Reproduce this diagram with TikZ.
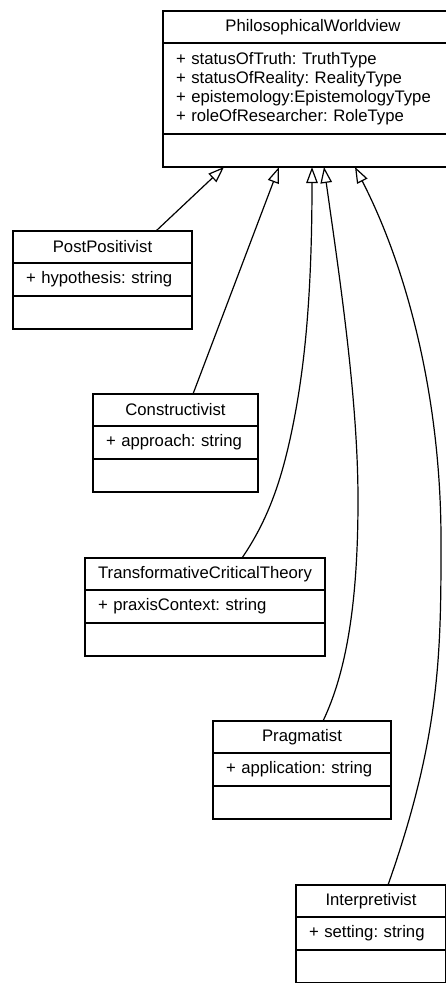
\documentclass[tikz,border=0pt]{standalone}
\usepackage{fontspec}
\setmainfont{Liberation Sans}
\usetikzlibrary{arrows.meta,positioning}
\frenchspacing
\begin{document}
\begin{tikzpicture}
% UML class diagram laid out on the pixel grid of the source image
\def\px{1pt}
\providecommand{\umlLineWidth}{1.2pt}
\providecommand{\umlFont}{\fontsize{16.7}{19}\selectfont}
\begin{scope}[x=\px, y=-\px, line join=miter,
  classname/.style={draw, line width=\umlLineWidth, outer sep=0pt, inner sep=0pt, minimum width=#1, minimum height=32pt, font=\umlFont},
  classattr/.style={draw, line width=\umlLineWidth, outer sep=0pt, inner xsep=13pt, inner ysep=0pt, text width=#1, minimum height=33pt, align=left, font=\umlFont},
  classops/.style={draw, line width=\umlLineWidth, outer sep=0pt, inner sep=0pt, minimum width=#1, minimum height=33pt},
  inherit/.style={-{Triangle[open, length=16pt, width=11.5pt]}, line width=\umlLineWidth}]
  % Page frame, the diagram runs off the right and bottom edges
  \useasboundingbox (0,0) rectangle (446,983);
  \clip (0,0) rectangle (446,983);
  % Parent class
  \node[classname=300pt, anchor=north west] (pw) at (163,11) {PhilosophicalWorldview};
  \node[classattr=274pt, minimum height=91pt, below=0pt of pw] (pw-attr) {+ statusOfTruth: TruthType\\+ statusOfReality: RealityType\\+ epistemology:EpistemologyType\\+ roleOfResearcher: RoleType};
  \node[classops=300pt, below=0pt of pw-attr] (pw-ops) {};
  % Subclasses
  \node[classname=179pt, anchor=north west] (pp) at (13,231) {PostPositivist};
  \node[classattr=153pt, below=0pt of pp] (pp-attr) {+ hypothesis: string};
  \node[classops=179pt, below=0pt of pp-attr] (pp-ops) {};
  \node[classname=165pt, anchor=north west] (co) at (93,394) {Constructivist};
  \node[classattr=139pt, below=0pt of co] (co-attr) {+ approach: string};
  \node[classops=165pt, below=0pt of co-attr] (co-ops) {};
  \node[classname=240pt, anchor=north west] (tc) at (85,558) {TransformativeCriticalTheory};
  \node[classattr=214pt, below=0pt of tc] (tc-attr) {+ praxisContext: string};
  \node[classops=240pt, below=0pt of tc-attr] (tc-ops) {};
  \node[classname=178pt, anchor=north west] (pr) at (213,721) {Pragmatist};
  \node[classattr=152pt, below=0pt of pr] (pr-attr) {+ application: string};
  \node[classops=178pt, below=0pt of pr-attr] (pr-ops) {};
  \node[classname=150pt, anchor=north west] (in) at (296,885) {Interpretivist};
  \node[classattr=124pt, below=0pt of in] (in-attr) {+ setting: string};
  \node[classops=150pt, below=0pt of in-attr] (in-ops) {};
  % Generalisation arrows
  \draw[inherit] ([xshift=53.5pt]pp.north) -- ([xshift=61pt]pw-ops.south west);
  \draw[inherit] ([xshift=17.5pt]co.north) -- ([xshift=116pt]pw-ops.south west);
  \draw[inherit] ([xshift=37pt]tc.north) .. controls (268,520) and (282,480) .. (293,425)
    .. controls (304,370) and (312,300) .. ([xshift=149pt]pw-ops.south west);
  \draw[inherit] ([xshift=21pt]pr.north) .. controls (347,671) and (358,600) .. (358,500)
    .. controls (358,400) and (340,280) .. ([xshift=161pt]pw-ops.south west);
  \draw[inherit] ([xshift=17pt]in.north) .. controls (441,735) and (441,650) .. (441,540)
    .. controls (441,400) and (408,270) .. ([xshift=192pt]pw-ops.south west);
\end{scope}
\end{tikzpicture}
\end{document}
